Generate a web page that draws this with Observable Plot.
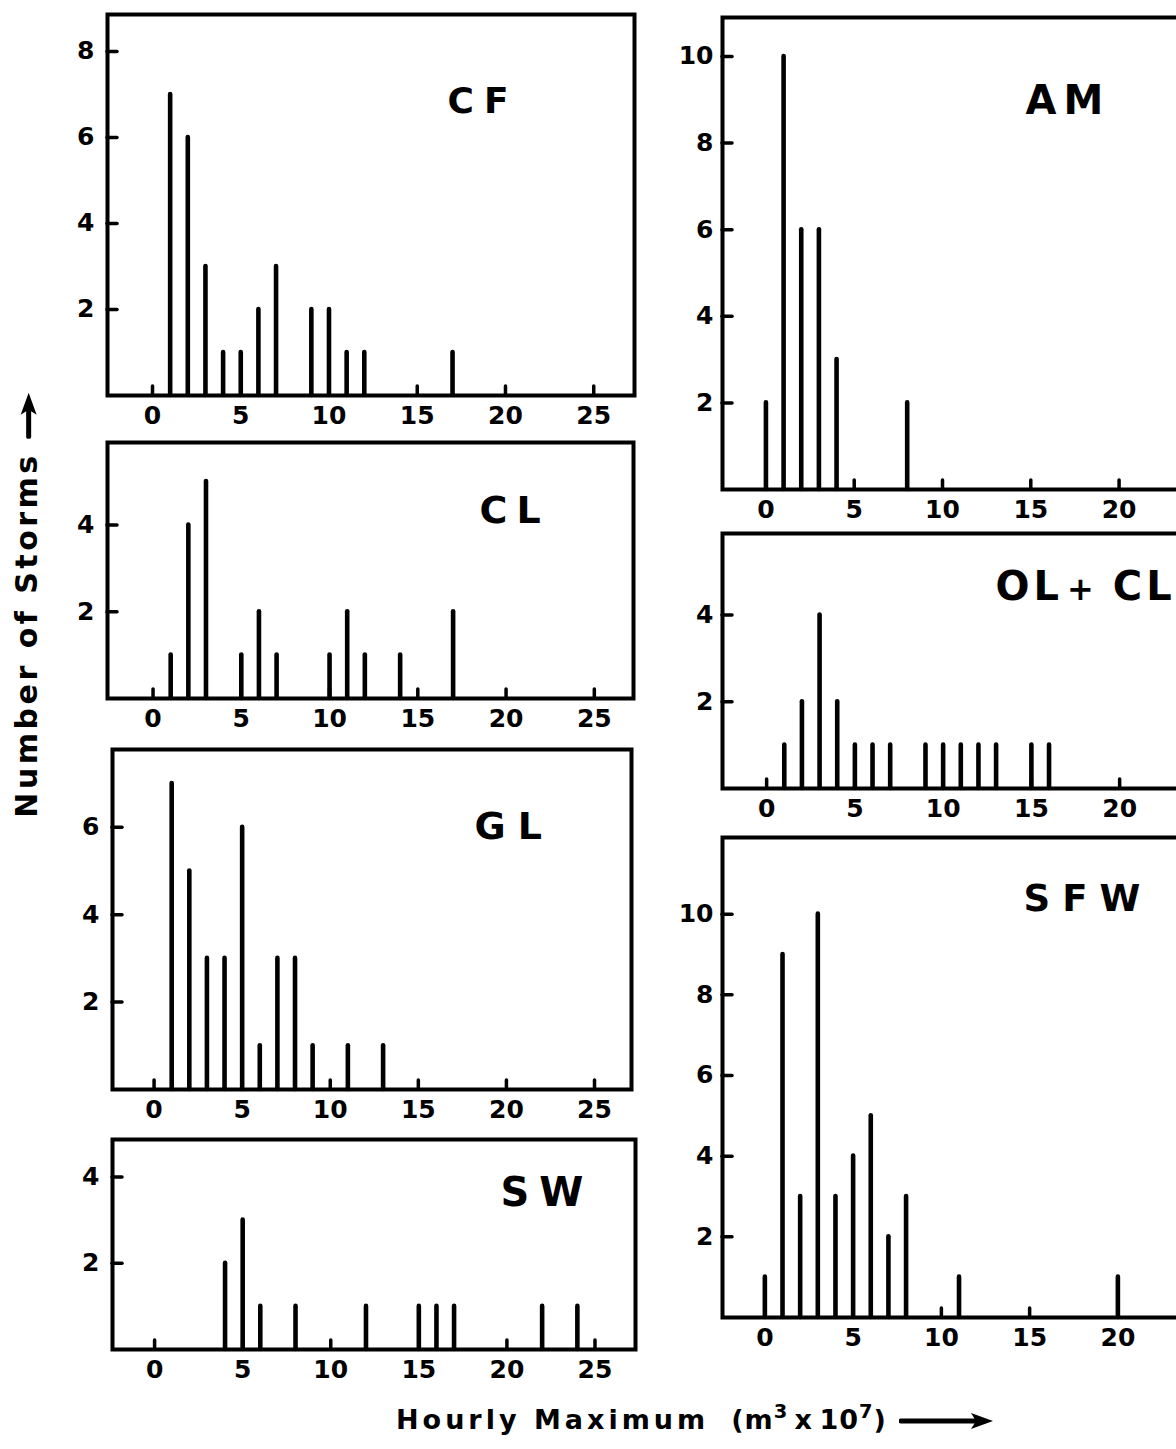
<!DOCTYPE html>
<html><head><meta charset="utf-8">
<script src="https://cdn.jsdelivr.net/npm/d3@7"></script>
<script src="https://cdn.jsdelivr.net/npm/@observablehq/plot@0.6"></script>
<style>
html,body{margin:0;padding:0;background:#fff;overflow:hidden;}
#chart{position:relative;width:1176px;height:1449px;overflow:hidden;background:#fff;font-family:"DejaVu Sans",sans-serif;color:#000;}
#chart > svg{position:absolute;overflow:visible;}
.axlab{position:absolute;font-family:"DejaVu Sans",sans-serif;font-weight:bold;color:#000;white-space:nowrap;line-height:1;}
.axlab sup{font-size:0.72em;vertical-align:0.55em;line-height:0;}
.axlab svg{display:inline-block;vertical-align:middle;}
</style></head><body><div id="chart"></div>
<script>
// x tick values (hourly maximum, m3 x 10^7)
const xTicks = [0, 5, 10, 15, 20, 25];
const xTicksRight = [0, 5, 10, 15, 20];

// CF
const cfX = [1, 2, 3, 4, 5, 6, 7, 9, 10, 11, 12, 17];
const cfN = [7, 6, 3, 1, 1, 2, 3, 2, 2, 1, 1, 1];
// CL
const clX = [1, 2, 3, 5, 6, 7, 10, 11, 12, 14, 17];
const clN = [1, 4, 5, 1, 2, 1, 1, 2, 1, 1, 2];
// GL
const glX = [1, 2, 3, 4, 5, 6, 7, 8, 9, 11, 13];
const glN = [7, 5, 3, 3, 6, 1, 3, 3, 1, 1, 1];
// SW
const swX = [4, 5, 6, 8, 12, 15, 16, 17, 22, 24];
const swN = [2, 3, 1, 1, 1, 1, 1, 1, 1, 1];
// AM
const amX = [0, 1, 2, 3, 4, 8];
const amN = [2, 10, 6, 6, 3, 2];
// OL + CL
const olX = [1, 2, 3, 4, 5, 6, 7, 9, 10, 11, 12, 13, 15, 16];
const olN = [1, 2, 4, 2, 1, 1, 1, 1, 1, 1, 1, 1, 1, 1];
// SFW
const sfwX = [0, 1, 2, 3, 4, 5, 6, 7, 8, 11, 20];
const sfwN = [1, 9, 3, 10, 3, 4, 5, 2, 3, 1, 1];

const yTicks2 = [2, 4];
const yTicks3 = [2, 4, 6];
const yTicks4 = [2, 4, 6, 8];
const yTicks5 = [2, 4, 6, 8, 10];

const chart = document.getElementById("chart");

function panel(cfg) {
  const mL = 62, mR = 4, mT = 4, mB = 44;
  const data = cfg.x.map((v, i) => ({x: v, n: cfg.n[i]}));
  const svg = Plot.plot({
    width: cfg.width + mL + mR,
    height: cfg.height + mT + mB,
    marginLeft: mL, marginRight: mR, marginTop: mT, marginBottom: mB,
    style: {background: "transparent", fontFamily: "DejaVu Sans", color: "#000"},
    x: {domain: cfg.xDomain, label: null},
    y: {domain: [0, cfg.yMax], label: null},
    marks: [
      Plot.ruleX(data, {x: "x", y1: 0, y2: "n", stroke: "#000", strokeWidth: 4.6, strokeLinecap: "round"}),
      Plot.axisX({ticks: cfg.xTicks, anchor: "bottom", tickSize: -9, tickPadding: 20, strokeWidth: 3.5, strokeLinecap: "round",
        fontSize: 25, fontWeight: "bold", label: null, tickFormat: d => String(d)}),
      Plot.axisY({ticks: cfg.yTicks, anchor: "left", tickSize: -10, tickPadding: cfg.yPad, strokeWidth: 3.5, strokeLinecap: "round",
        fontSize: 25, fontWeight: "bold", label: null, tickFormat: d => String(d)}),
      Plot.frame({stroke: "#000", strokeWidth: 4}),
      Plot.text([cfg.title], {frameAnchor: "top-left", dx: cfg.tdx, dy: cfg.tdy, textAnchor: "start", lineAnchor: "middle",
        fontSize: cfg.fs, fontWeight: "bold", fill: "#000"})
    ]
  });
  svg.style.left = (cfg.left - mL) + "px";
  svg.style.top = (cfg.top - mT) + "px";
  const t = d3.select(svg).selectAll('g[aria-label="text"] text').style("letter-spacing", cfg.ls + "px");
  if (cfg.split) {
    t.each(function() {
      const el = d3.select(this);
      el.text(null);
      el.append("tspan").text(cfg.split[0]);
      el.append("tspan").attr("font-size", 32).attr("dx", 4).text(cfg.split[1]);
      el.append("tspan").attr("dx", 15).text(cfg.split[2]);
    });
  }
  chart.appendChild(svg);
}

panel({title: "CF", x: cfX, n: cfN, xTicks: xTicks, yTicks: yTicks4, yMax: 8.86, xDomain: [-2.55, 27.31],
  left: 107, top: 14, width: 527, height: 381, tdx: 340, tdy: 87, ls: 10, fs: 36, yPad: 23});
panel({title: "CL", x: clX, n: clN, xTicks: xTicks, yTicks: yTicks2, yMax: 5.9, xDomain: [-2.58, 27.22],
  left: 107, top: 442, width: 526, height: 256, tdx: 372, tdy: 68, ls: 9, fs: 38, yPad: 23});
panel({title: "GL", x: glX, n: glN, xTicks: xTicks, yTicks: yTicks3, yMax: 7.78, xDomain: [-2.36, 27.1],
  left: 112, top: 749, width: 519, height: 340, tdx: 362, tdy: 77, ls: 12, fs: 38, yPad: 23});
panel({title: "SW", x: swX, n: swN, xTicks: xTicks, yTicks: yTicks2, yMax: 4.87, xDomain: [-2.39, 27.3],
  left: 112, top: 1139, width: 523, height: 210, tdx: 388, tdy: 54, ls: 10, fs: 40, yPad: 23});
panel({title: "AM", x: amX, n: amN, xTicks: xTicksRight, yTicks: yTicks5, yMax: 10.9, xDomain: [-2.46, 27.33],
  left: 722, top: 17, width: 526, height: 472, tdx: 303, tdy: 84, ls: 7, fs: 40, yPad: 19});
panel({title: "OL+CL", split: ["OL", "+", "CL"], x: olX, n: olN, xTicks: xTicksRight, yTicks: yTicks2, yMax: 5.88, xDomain: [-2.5, 27.3],
  left: 722, top: 533, width: 526, height: 255, tdx: 273, tdy: 54, ls: 4, fs: 40, yPad: 19});
panel({title: "SFW", x: sfwX, n: sfwN, xTicks: xTicksRight, yTicks: yTicks5, yMax: 11.9, xDomain: [-2.4, 27.4],
  left: 722, top: 837, width: 526, height: 480, tdx: 301, tdy: 62, ls: 12, fs: 37, yPad: 19});

// arrow graphic used after the axis titles
function arrowSvg(len) {
  return `<svg width="${len}" height="22" viewBox="0 0 ${len} 22"><line x1="2" y1="11" x2="${len - 16}" y2="11" stroke="#000" stroke-width="5" stroke-linecap="round"/><polygon points="${len - 22},3 ${len},11 ${len - 22},19 ${len - 17},11" fill="#000"/></svg>`;
}

// y axis title
const yl = document.createElement("div");
yl.className = "axlab";
yl.style.fontSize = "30px";
yl.style.letterSpacing = "3.5px";
yl.innerHTML = "Number of Storms&nbsp;" + arrowSvg(46);
chart.appendChild(yl);
const w = yl.offsetWidth, h = yl.offsetHeight;
yl.style.left = (26 - w / 2) + "px";
yl.style.top = (605 - h / 2) + "px";
yl.style.transform = "rotate(-90deg)";

// x axis title
const xl = document.createElement("div");
xl.className = "axlab";
xl.style.fontSize = "27px";
xl.innerHTML = '<span style="letter-spacing:4px">Hourly Maximum</span>' +
  '<span style="margin-left:22px;letter-spacing:1px">(m<sup>3</sup>&thinsp;x&thinsp;10<sup>7</sup>)</span>' +
  '<span style="margin-left:12px">' + arrowSvg(94) + '</span>';
chart.appendChild(xl);
xl.style.left = "396px";
xl.style.top = (1419 - xl.offsetHeight / 2) + "px";
</script>
</body></html>
